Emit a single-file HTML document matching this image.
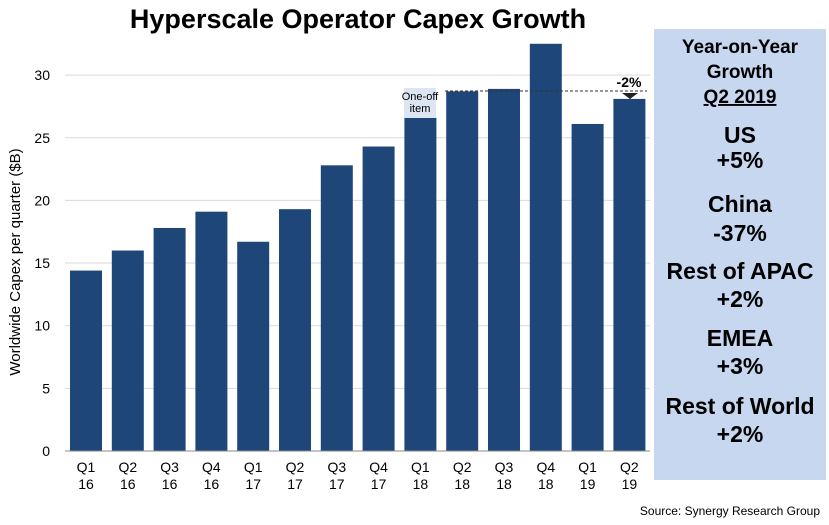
<!DOCTYPE html>
<html><head><meta charset="utf-8"><style>
body{margin:0;background:#fff;font-family:"Liberation Sans",Arial,sans-serif}
svg text{font-family:"Liberation Sans",Arial,sans-serif}
</style></head><body>
<svg id="c" width="829" height="520">
<text x="358" y="28" text-anchor="middle" font-size="27" font-weight="bold">Hyperscale Operator Capex Growth</text>
<g id="grid"></g><g id="bars"></g><g id="axes"></g>
<text transform="translate(20,262) rotate(-90)" text-anchor="middle" font-size="15">Worldwide Capex per quarter ($B)</text>
<rect x="404" y="88" width="32" height="30" fill="#dce6f2"/>
<text x="420" y="100" text-anchor="middle" font-size="11">One-off</text>
<text x="420" y="112" text-anchor="middle" font-size="11">item</text>
<line x1="445" y1="91" x2="647" y2="91" stroke="#333" stroke-dasharray="3,2"/>
<polygon points="622,93 638,93 630,99" fill="#222"/>
<text x="629" y="87" text-anchor="middle" font-size="14" font-weight="bold">-2%</text>
<rect x="654" y="29" width="172" height="451" fill="#c6d7ef"/>
<g font-weight="bold" text-anchor="middle">
<text x="740" y="53" font-size="19">Year-on-Year</text>
<text x="740" y="78" font-size="19">Growth</text>
<text x="740" y="103" font-size="19" text-decoration="underline">Q2 2019</text>
<text x="740" y="143" font-size="23">US</text>
<text x="740" y="168" font-size="23">+5%</text>
<text x="740" y="212" font-size="23">China</text>
<text x="740" y="241" font-size="23">-37%</text>
<text x="740" y="279" font-size="23">Rest of APAC</text>
<text x="740" y="307" font-size="23">+2%</text>
<text x="740" y="346" font-size="23">EMEA</text>
<text x="740" y="374" font-size="23">+3%</text>
<text x="740" y="414" font-size="23">Rest of World</text>
<text x="740" y="442" font-size="23">+2%</text>
</g>
<text x="820" y="515" text-anchor="end" font-size="12">Source:  Synergy Research  Group</text>
</svg>
<script>
const quarters=["Q1","Q2","Q3","Q4","Q1","Q2","Q3","Q4","Q1","Q2","Q3","Q4","Q1","Q2"];
const years=["16","16","16","16","17","17","17","17","18","18","18","18","19","19"];
const capex=[14.4,16.0,17.8,19.1,16.7,19.3,22.8,24.3,26.6,28.7,28.9,32.5,26.1,28.1];
const yTicks=[0,5,10,15,20,25,30];
const NS="http://www.w3.org/2000/svg";
const y0=451,ppu=12.53,x0=70,pitch=41.8,bw=32;
const y=v=>y0-v*ppu, x=i=>x0+i*pitch;
function mk(t,a,p){const e=document.createElementNS(NS,t);for(const k in a)e.setAttribute(k,a[k]);p.appendChild(e);return e;}
const G=document.getElementById('grid'),B=document.getElementById('bars'),A=document.getElementById('axes');
yTicks.forEach(v=>{
 if(v>0){const l=mk('line',{x1:65,x2:650,y1:y(v),y2:y(v),stroke:'#d9d9d9'},G);
 
 }
 const t=mk('text',{x:50,y:y(v)+5,'text-anchor':'end','font-size':14},A);t.textContent=v;
 
 
});
capex.forEach((v,i)=>{
 const r=mk('rect',{x:x(i),y:y(v),width:bw,height:v*ppu,fill:'#1f4679'},B);
 
 
 const t=mk('text',{x:x(i)+bw/2,y:472,'text-anchor':'middle','font-size':14},A);
 
 
 mk('tspan',{x:x(i)+bw/2},t).textContent=quarters[i];
 mk('tspan',{x:x(i)+bw/2,dy:17},t).textContent=years[i];
});
const ax=mk('line',{x1:65,x2:650,y1:y0,y2:y0,stroke:'#888'},A);


</script>
</body></html>
